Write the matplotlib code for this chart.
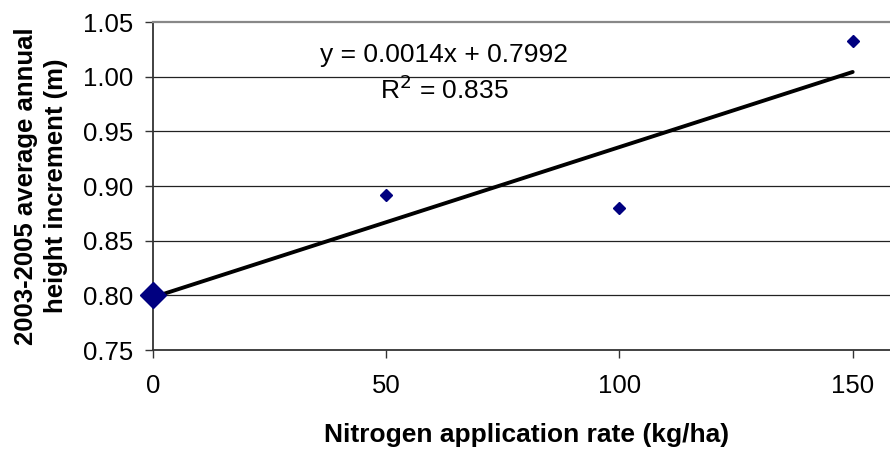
import matplotlib
matplotlib.use("Agg")
import matplotlib.pyplot as plt
import numpy as np
from matplotlib.ticker import FormatStrFormatter

plt.rcParams['font.family'] = ['Liberation Sans', 'DejaVu Sans']

nitrogen = [0, 50, 100, 150]
height_inc = [0.800, 0.892, 0.880, 1.033]
marker_sizes = [13.0, 6.6, 6.6, 6.6]
x_ticks = [0, 50, 100, 150]
y_ticks = [0.75, 0.80, 0.85, 0.90, 0.95, 1.00, 1.05]
eq_text = "y = 0.0014x + 0.7992"
r2_text = "R$^2$ = 0.835"

slope, intercept = np.polyfit(nitrogen, height_inc, 1)

fig = plt.figure(figsize=(8.9, 4.5), dpi=100)
ax = fig.add_axes([153/890, 1-350/450, 1-153/890, (350-22)/450])

ax.set_xlim(0, 158)
ax.set_ylim(0.75, 1.05)

for yv in y_ticks[1:-1]:
    ax.axhline(yv, color='#222222', lw=0.9, zorder=1)

xs = np.array([min(nitrogen), max(nitrogen)])
ax.plot(xs, slope*xs + intercept, color='black', lw=2.8, zorder=3, solid_capstyle='round')

for x, y, s in zip(nitrogen, height_inc, marker_sizes):
    ax.plot([x], [y], marker='D', ms=s, color='#000080', mec='#000080',
            linestyle='none', zorder=4, clip_on=False)

ax.set_xticks(x_ticks)
ax.set_yticks(y_ticks)
ax.yaxis.set_major_formatter(FormatStrFormatter('%.2f'))
ax.tick_params(axis='both', direction='out', length=6, width=1.0,
               color='#333333', labelsize=18.5)
ax.tick_params(axis='x', pad=11)
ax.tick_params(axis='y', pad=8)

ax.spines['right'].set_visible(False)
ax.spines['top'].set_color('#888888')
ax.spines['top'].set_linewidth(1.6)
for sp in ['left', 'bottom']:
    ax.spines[sp].set_color('#333333')
    ax.spines[sp].set_linewidth(1.3)

ax.set_xlabel("Nitrogen application rate (kg/ha)", fontsize=19, fontweight='bold')
ax.xaxis.set_label_coords((527-153)/737, -(442-350)/328, transform=ax.transAxes)
ax.xaxis.label.set_va('baseline')
ax.set_ylabel("2003-2005 average annual\nheight increment (m)", fontsize=18.5,
              fontweight='bold', linespacing=1.32)
ax.yaxis.set_label_coords(-(153-68)/737, 0.5)

fig.text(444/890, 1-62/450, eq_text, ha='center', va='baseline', fontsize=19)
fig.text(444/890, 1-99/450, r2_text, ha='center', va='baseline', fontsize=19)

fig.savefig("out.png", dpi=100)
